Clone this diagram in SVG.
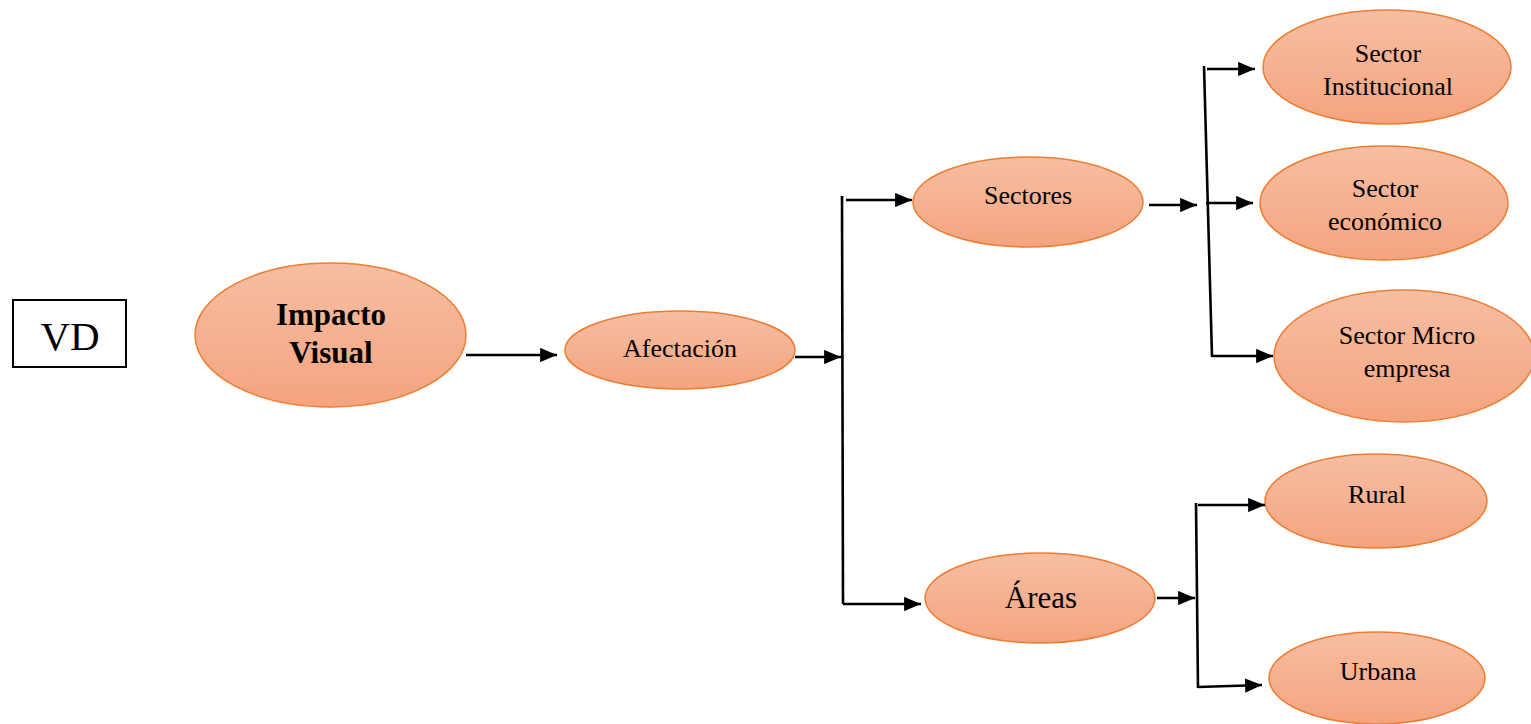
<svg xmlns="http://www.w3.org/2000/svg" width="1531" height="724" viewBox="0 0 1531 724">
<defs>
<linearGradient id="g" x1="0" y1="0" x2="0" y2="1">
<stop offset="0" stop-color="#F7BEA3"/>
<stop offset="1" stop-color="#F4A47F"/>
</linearGradient>
<marker id="ah" viewBox="0 0 10 10" refX="10" refY="5" markerWidth="6.5" markerHeight="5.5" markerUnits="strokeWidth" orient="auto" preserveAspectRatio="none">
<path d="M0,0 L10,5 L0,10 z" fill="#000"/>
</marker>
</defs>
<style>
.n{fill:url(#g);stroke:#ED7D31;stroke-width:1.5}
.t{font-family:"Liberation Serif","Times New Roman",serif;fill:#000;text-anchor:middle;font-size:26px}
.c line{stroke:#000;stroke-width:2.6;fill:none}
.a{marker-end:url(#ah)}
</style>
<rect width="1531" height="724" fill="#fff"/>
<g id="vd">
<rect x="13" y="300" width="113" height="67" fill="#fff" stroke="#000" stroke-width="2"/>
<text class="t" x="70" y="350" style="font-size:41px">VD</text>
</g>
<g id="impacto">
<ellipse class="n" cx="330.5" cy="335" rx="135.5" ry="72"/>
<text class="t" x="331" y="325" style="font-size:31px" font-weight="bold">Impacto</text>
<text class="t" x="331" y="363" style="font-size:31px" font-weight="bold">Visual</text>
</g>
<g id="afectacion">
<ellipse class="n" cx="680" cy="350" rx="115" ry="39"/>
<text class="t" x="680" y="357">Afectación</text>
</g>
<g id="sectores">
<ellipse class="n" cx="1028" cy="202" rx="115" ry="45"/>
<text class="t" x="1028" y="204">Sectores</text>
</g>
<g id="areas">
<ellipse class="n" cx="1040" cy="598" rx="115" ry="45"/>
<text class="t" x="1041" y="608" style="font-size:31px">Áreas</text>
</g>
<g id="institucional">
<ellipse class="n" cx="1387" cy="67" rx="124" ry="57"/>
<text class="t" x="1388" y="62">Sector</text>
<text class="t" x="1388" y="95">Institucional</text>
</g>
<g id="economico">
<ellipse class="n" cx="1384" cy="203" rx="124" ry="57"/>
<text class="t" x="1385" y="197">Sector</text>
<text class="t" x="1385" y="230">económico</text>
</g>
<g id="micro">
<ellipse class="n" cx="1404" cy="356" rx="130" ry="66"/>
<text class="t" x="1407" y="344">Sector Micro</text>
<text class="t" x="1407" y="377">empresa</text>
</g>
<g id="rural">
<ellipse class="n" cx="1376" cy="501" rx="111" ry="47"/>
<text class="t" x="1377" y="503">Rural</text>
</g>
<g id="urbana">
<ellipse class="n" cx="1377" cy="678" rx="108" ry="46"/>
<text class="t" x="1378" y="680">Urbana</text>
</g>
<g class="c" id="connectors">
<line class="a" x1="466" y1="355" x2="557" y2="355"/>
<line class="a" x1="795" y1="357" x2="841" y2="357"/>
<line x1="842" y1="196" x2="843" y2="604"/>
<line class="a" x1="846" y1="200" x2="912" y2="200"/>
<line class="a" x1="843" y1="604" x2="921" y2="604"/>
<line class="a" x1="1149" y1="205" x2="1197" y2="205"/>
<line x1="1204" y1="66" x2="1212" y2="357"/>
<line class="a" x1="1207" y1="69" x2="1255" y2="69"/>
<line class="a" x1="1206" y1="203" x2="1253" y2="203"/>
<line class="a" x1="1212" y1="356" x2="1273" y2="356"/>
<line class="a" x1="1157" y1="598" x2="1195" y2="598"/>
<line x1="1196" y1="503" x2="1198" y2="688"/>
<line class="a" x1="1198" y1="505" x2="1265" y2="505"/>
<line class="a" x1="1198" y1="687" x2="1262" y2="685"/>
</g>
</svg>
